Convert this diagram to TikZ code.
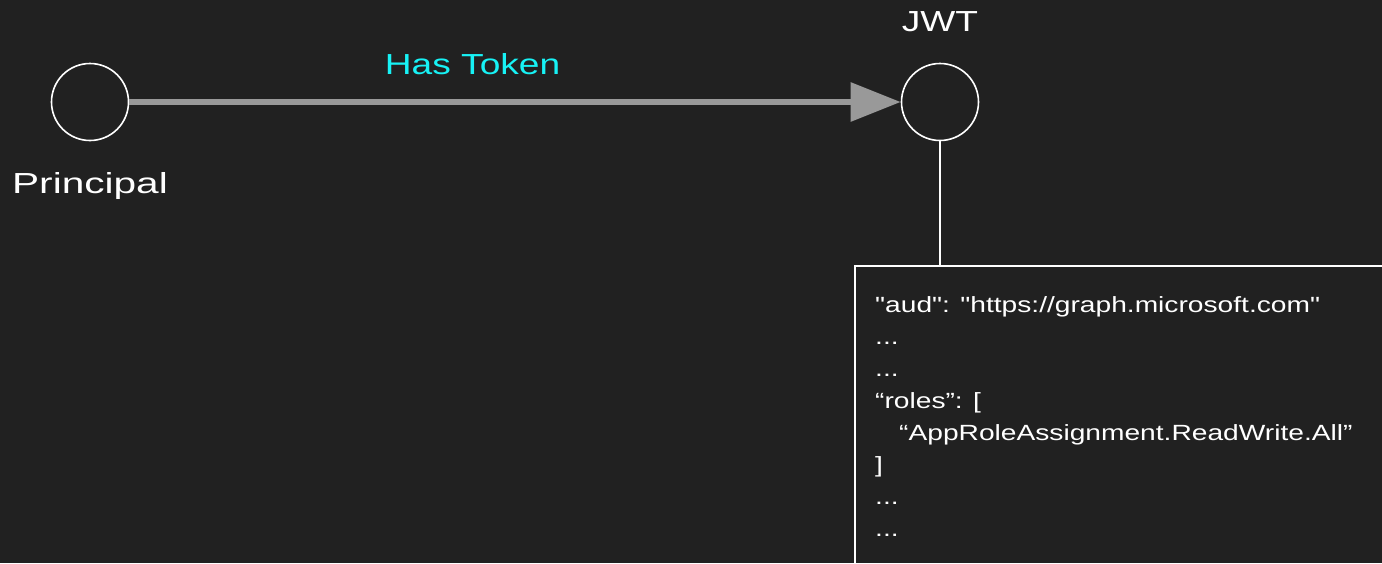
\documentclass[tikz,border=0pt]{standalone}
\usepackage{fontspec}
\setmainfont[FakeStretch=1.28]{Liberation Sans}
\newfontfamily\widefont[FakeStretch=1.4]{Liberation Sans}
\newfontfamily\boxfont[FakeStretch=1.28]{Liberation Sans}
\usetikzlibrary{arrows.meta}
\definecolor{bg}{HTML}{212121}
\definecolor{arrowgray}{HTML}{999999}
\definecolor{labelcyan}{HTML}{17F2F5}
\tikzset{
  entity/.style={circle, draw=white, line width=1.6pt, inner sep=0pt, minimum size=77pt},
  biglabel/.style={text=white, font=\fontsize{29}{34}\selectfont, inner sep=0pt},
  edgelabel/.style={text=labelcyan, font=\fontsize{29}{34}\selectfont, inner sep=0pt},
  relation/.style={draw=arrowgray, line width=6pt, -{Triangle[length=50pt,width=38pt]}},
  claimtext/.style={text=white, font=\boxfont\fontsize{22}{32}\selectfont, align=left, inner sep=0pt},
  frame/.style={draw=white, line width=1.6pt}
}
\begin{document}
\begin{tikzpicture}[x=1pt,y=-1pt]
  \fill[bg] (0,0) rectangle (1382,563);
  \useasboundingbox (0,0) rectangle (1382,563);
  \node[entity] (principal) at (90,102) {};
  \node[entity] (jwt) at (940,102) {};
  \node[biglabel, font=\widefont\fontsize{29}{34}\selectfont] (plabel) at (90,186) {Principal};
  \node[biglabel] (jlabel) at (940,22) {JWT};
  \draw[relation] (principal.east) -- (jwt.west) node[edgelabel, pos=0.445, above=24pt] (has) {Has Token};
  \coordinate (boxtl) at (855,266);
  \coordinate (boxbr) at (1400,580);
  \begin{scope}
    \clip (0,0) rectangle (1382,563);
    \draw[frame] (boxtl) rectangle (boxbr);
  \end{scope}
  \draw[white, line width=1.6pt] (jwt.south) -- (jwt.south |- boxtl);
  \node[claimtext, anchor=north west] (claims) at (875,296) {"aud": "https://graph.microsoft.com"\\
...\\
...\\
“roles”: [\\
\hspace*{24pt}“AppRoleAssignment.ReadWrite.All”\\
]\\
...\\
...};
\end{tikzpicture}
\end{document}
